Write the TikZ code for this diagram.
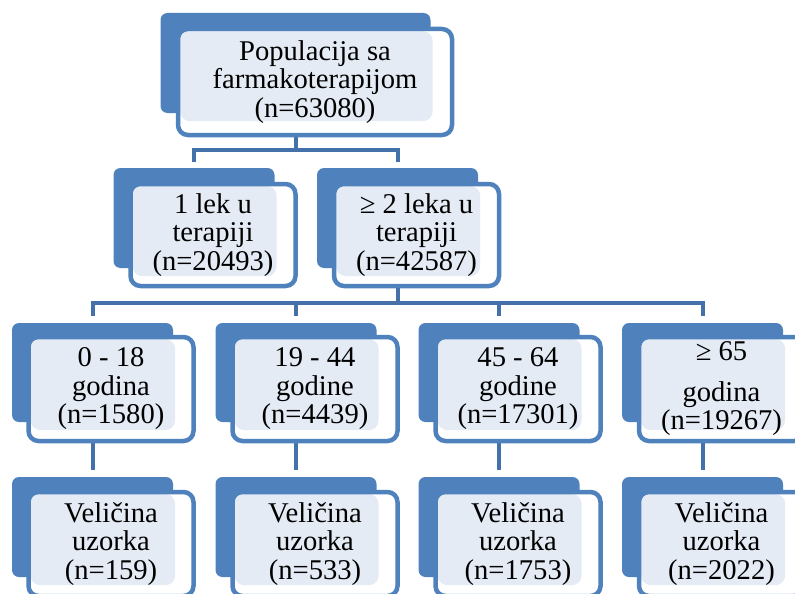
\documentclass[tikz,border=0pt]{standalone}
\usepackage{fontspec}
\setmainfont{Liberation Serif}
\usepackage{tikz}

\definecolor{tabblue}{RGB}{79,129,189}
\definecolor{lineblue}{RGB}{68,113,170}
\definecolor{dotfill}{RGB}{228,235,245}

\begin{document}
\begin{tikzpicture}[x=1pt,y=-1pt,
  tabnode/.style={rectangle,fill=tabblue,rounded corners=7pt,inner sep=0pt,minimum width=161pt,minimum height=100pt},
  boxnode/.style={rectangle,draw=tabblue,line width=4.5pt,fill=white,rounded corners=10pt,inner sep=0pt,
    minimum width=165pt,minimum height=104pt,align=center,font=\fontsize{28.6}{28.5}\selectfont,
    path picture={\fill[dotfill] ([shift={(2,2)}]path picture bounding box.north west) rectangle ([shift={(2,8)}]#1.south east);}},
  link/.style={draw=lineblue,line width=4pt}]
  \useasboundingbox (0,0) rectangle (795,594);
  \clip (0,0) rectangle (795,594);

  % tabs behind the boxes
  \node[tabnode,minimum width=270pt] (t1) at (295.5,63) {};
  \node[tabnode] (t2a) at (194,218) {};
  \node[tabnode] (t2b) at (397.5,218) {};
  \node[tabnode,minimum height=99pt] (t3a) at (92.5,372.5) {};
  \node[tabnode,minimum height=99pt] (t3b) at (296,372.5) {};
  \node[tabnode,minimum height=99pt] (t3c) at (499,372.5) {};
  \node[tabnode,minimum height=99pt] (t3d) at (702.5,372.5) {};
  \node[tabnode] (t4a) at (92.5,527) {};
  \node[tabnode] (t4b) at (296,527) {};
  \node[tabnode] (t4c) at (499,527) {};
  \node[tabnode] (t4d) at (702.5,527) {};

  % connectors
  \coordinate (j1) at (295.5,150);
  \coordinate (j2) at (397.5,303);
  \draw[link] (t1.south) -- (j1);
  \draw[link,shorten >=6pt] (j1) -| (t2a.north);
  \draw[link,shorten >=6pt] (j1) -| (t2b.north);
  \draw[link] (t2b.south) -- (j2);
  \draw[link,shorten >=7pt] (j2) -| (t3a.north);
  \draw[link,shorten >=7pt] (j2) -| (t3b.north);
  \draw[link,shorten >=7pt] (j2) -| (t3c.north);
  \draw[link,shorten >=7pt] (j2) -| (t3d.north);
  \draw[link,shorten >=7pt] (t3a.south) -- (t4a.north);
  \draw[link,shorten >=7pt] (t3b.south) -- (t4b.north);
  \draw[link,shorten >=7pt] (t3c.south) -- (t4c.north);
  \draw[link,shorten >=7pt] (t3d.south) -- (t4d.north);

  % boxes
  \node[boxnode=t1,minimum width=274pt,minimum height=106pt] (b1) at (315,82) {Populacija sa\\farmakoterapijom\\(n=63080)};
  \node[boxnode=t2a,minimum height=102pt] (b2a) at (213,235) {1 lek u\\terapiji\\(n=20493)};
  \node[boxnode=t2b,minimum height=102pt] (b2b) at (416.5,235) {≥ 2 leka u\\terapiji\\(n=42587)};
  \node[boxnode=t3a] (b3a) at (111,389) {0 - 18\\godina\\(n=1580)};
  \node[boxnode=t3b] (b3b) at (315,389) {19 - 44\\godine\\(n=4439)};
  \node[boxnode=t3c] (b3c) at (518,389) {45 - 64\\godine\\(n=17301)};
  \node[boxnode=t3d] (b3d) at (721.5,389) {≥ 65\\[12pt]godina\\(n=19267)};
  \node[boxnode=t4a] (b4a) at (111,544) {Veličina\\uzorka\\(n=159)};
  \node[boxnode=t4b] (b4b) at (315,544) {Veličina\\uzorka\\(n=533)};
  \node[boxnode=t4c] (b4c) at (518,544) {Veličina\\uzorka\\(n=1753)};
  \node[boxnode=t4d] (b4d) at (721.5,544) {Veličina\\uzorka\\(n=2022)};
\end{tikzpicture}
\end{document}
